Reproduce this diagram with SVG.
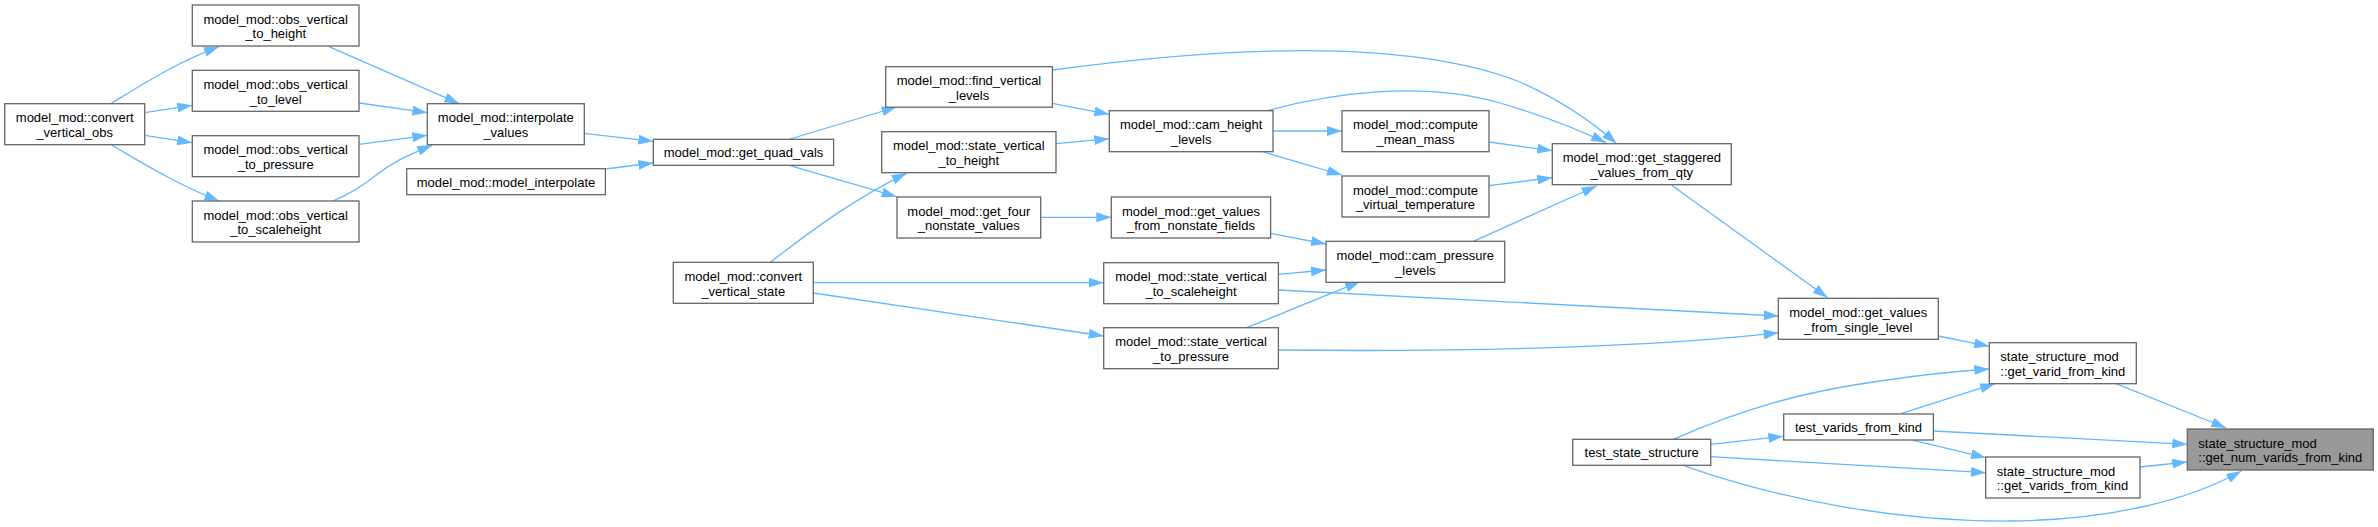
<svg xmlns="http://www.w3.org/2000/svg" width="2378" height="527" viewBox="0 0 2378 527">
<style>
.n rect{fill:#ffffff;stroke:#666666;stroke-width:1.3}
.n.f rect{fill:#999999}
.n text{font-family:"Liberation Sans",Arial,Helvetica,sans-serif;font-size:13px;fill:#000000;text-anchor:middle}
.n text.l{text-anchor:start}
#edges path{fill:none;stroke:#63b8ff;stroke-width:1.3;marker-end:url(#ah)}
</style>
<defs>
<marker id="ah" markerUnits="userSpaceOnUse" viewBox="0 0 15 10" refX="15" refY="5" markerWidth="15" markerHeight="10" orient="auto">
<path d="M0,0L15,5L0,10z" fill="#63b8ff"/>
</marker>
</defs>
<rect width="2378" height="527" fill="#ffffff"/>
<g id="edges">
<path d="M111,103.5 C140,86 175,63 219,46.7"/>
<path d="M144.7,112.7 L192.3,105.3"/>
<path d="M144.7,135.3 L192.3,142.7"/>
<path d="M112,145.3 C141,162 176,184 219.3,201"/>
<path d="M329,46.7 L459.3,103.7"/>
<path d="M359,103 L427.3,112.7"/>
<path d="M359,144.3 L427.3,135.3"/>
<path d="M332.7,201 C350,194 365,184 375,176 C390,164 405,156 432.3,145.3"/>
<path d="M584.3,133.3 L653.3,141.3"/>
<path d="M605.3,169 L653.3,163"/>
<path d="M790,139 L896.7,107"/>
<path d="M790,165.7 L896.7,196.7"/>
<path d="M770,262.3 C800,240 850,200 906.7,173.3"/>
<path d="M813.3,282.7 L1103.7,282.7"/>
<path d="M813.3,293 L1103.7,336"/>
<path d="M1052.3,103.3 L1109.3,114.3"/>
<path d="M1052.3,70 C1200,50 1400,35 1520,82 C1560,100 1590,120 1616.7,143.7"/>
<path d="M1056,143.7 L1109.3,138.7"/>
<path d="M1040.7,217.3 L1111.3,217.3"/>
<path d="M1273,131 L1342,131"/>
<path d="M1263.3,152 L1342,175"/>
<path d="M1266.7,110.7 C1330,94 1420,80 1500,103 C1545,116 1575,128 1606,142.7"/>
<path d="M1270.7,233.3 L1326,244"/>
<path d="M1278.3,274.3 L1326,270"/>
<path d="M1246.7,327.7 L1360,281.7"/>
<path d="M1489,142 L1552.3,150.7"/>
<path d="M1489,185.7 L1552.3,177.7"/>
<path d="M1473.3,241.3 L1596.7,186"/>
<path d="M1671.7,185.3 L1827.7,297.7"/>
<path d="M1278.3,290 L1778.7,316"/>
<path d="M1278.3,350 C1450,352 1650,348 1778.7,332.7"/>
<path d="M1938.3,336 L1989.3,346.3"/>
<path d="M1673.3,439.3 C1740,410 1800,392 1880,381 C1920,375 1960,371 1989.3,369"/>
<path d="M1901.7,413.3 L1995,383.7"/>
<path d="M1710.7,444.3 L1783.3,436.3"/>
<path d="M1710.7,456.7 L1986,472.7"/>
<path d="M1913.3,440.3 L1986,457.7"/>
<path d="M1933.3,431 L2187.3,444.3"/>
<path d="M2116,383.7 L2226.3,428"/>
<path d="M2140,467 L2187.3,462"/>
<path d="M1683.3,465.3 C1780,500 1900,522 2011,521 C2110,520 2190,500 2241.3,471"/>
</g>
<g id="convert_vertical_obs" class="n"><rect x="4.7" y="103.7" width="140" height="41"/><text x="74.7" y="122.2">model_mod::convert</text><text x="74.7" y="137">_vertical_obs</text></g>
<g id="obs_vertical_to_height" class="n"><rect x="192.3" y="5" width="166.7" height="41"/><text x="275.7" y="23.5">model_mod::obs_vertical</text><text x="275.7" y="38.3">_to_height</text></g>
<g id="obs_vertical_to_level" class="n"><rect x="192.3" y="70.3" width="166.7" height="41"/><text x="275.7" y="88.8">model_mod::obs_vertical</text><text x="275.7" y="103.6">_to_level</text></g>
<g id="obs_vertical_to_pressure" class="n"><rect x="192.3" y="135.7" width="166.7" height="41"/><text x="275.7" y="154.2">model_mod::obs_vertical</text><text x="275.7" y="169">_to_pressure</text></g>
<g id="obs_vertical_to_scaleheight" class="n"><rect x="192.3" y="201" width="166.7" height="41"/><text x="275.7" y="219.5">model_mod::obs_vertical</text><text x="275.7" y="234.3">_to_scaleheight</text></g>
<g id="interpolate_values" class="n"><rect x="427.3" y="103.7" width="157" height="41"/><text x="505.8" y="122.2">model_mod::interpolate</text><text x="505.8" y="137">_values</text></g>
<g id="model_interpolate" class="n"><rect x="406.7" y="168.7" width="198.7" height="26"/><text x="506" y="186.5">model_mod::model_interpolate</text></g>
<g id="get_quad_vals" class="n"><rect x="653.3" y="139.3" width="180.3" height="26"/><text x="743.5" y="157.1">model_mod::get_quad_vals</text></g>
<g id="convert_vertical_state" class="n"><rect x="673.3" y="262.3" width="140" height="41"/><text x="743.3" y="280.8">model_mod::convert</text><text x="743.3" y="295.6">_vertical_state</text></g>
<g id="find_vertical_levels" class="n"><rect x="885.7" y="66.7" width="166.7" height="40.5"/><text x="969" y="85.2">model_mod::find_vertical</text><text x="969" y="100">_levels</text></g>
<g id="state_vertical_to_height" class="n"><rect x="881.7" y="131.7" width="174.3" height="41"/><text x="968.8" y="150.2">model_mod::state_vertical</text><text x="968.8" y="165">_to_height</text></g>
<g id="get_four_nonstate_values" class="n"><rect x="897" y="197" width="143.7" height="41"/><text x="968.8" y="215.5">model_mod::get_four</text><text x="968.8" y="230.3">_nonstate_values</text></g>
<g id="cam_height_levels" class="n"><rect x="1109.3" y="110.7" width="163.7" height="41"/><text x="1191.2" y="129.2">model_mod::cam_height</text><text x="1191.2" y="144">_levels</text></g>
<g id="get_values_from_nonstate_fields" class="n"><rect x="1111.3" y="197" width="159.3" height="41"/><text x="1191" y="215.5">model_mod::get_values</text><text x="1191" y="230.3">_from_nonstate_fields</text></g>
<g id="state_vertical_to_scaleheight" class="n"><rect x="1103.7" y="262.7" width="174.7" height="41"/><text x="1191" y="281.2">model_mod::state_vertical</text><text x="1191" y="296">_to_scaleheight</text></g>
<g id="state_vertical_to_pressure" class="n"><rect x="1103.7" y="327.7" width="174.7" height="41"/><text x="1191" y="346.2">model_mod::state_vertical</text><text x="1191" y="361">_to_pressure</text></g>
<g id="compute_mean_mass" class="n"><rect x="1342" y="110.7" width="147" height="41"/><text x="1415.5" y="129.2">model_mod::compute</text><text x="1415.5" y="144">_mean_mass</text></g>
<g id="compute_virtual_temperature" class="n"><rect x="1342" y="176" width="147" height="41"/><text x="1415.5" y="194.5">model_mod::compute</text><text x="1415.5" y="209.3">_virtual_temperature</text></g>
<g id="cam_pressure_levels" class="n"><rect x="1326" y="241.3" width="178.7" height="41"/><text x="1415.3" y="259.8">model_mod::cam_pressure</text><text x="1415.3" y="274.6">_levels</text></g>
<g id="get_staggered_values_from_qty" class="n"><rect x="1552.3" y="143.7" width="179" height="41"/><text x="1641.8" y="162.2">model_mod::get_staggered</text><text x="1641.8" y="177">_values_from_qty</text></g>
<g id="get_values_from_single_level" class="n"><rect x="1778.3" y="298.3" width="160" height="41"/><text x="1858.3" y="316.8">model_mod::get_values</text><text x="1858.3" y="331.6">_from_single_level</text></g>
<g id="test_state_structure" class="n"><rect x="1572.7" y="439.3" width="138" height="26"/><text x="1641.7" y="457.1">test_state_structure</text></g>
<g id="test_varids_from_kind" class="n"><rect x="1783.7" y="414" width="149.7" height="26"/><text x="1858.5" y="431.8">test_varids_from_kind</text></g>
<g id="get_varid_from_kind" class="n"><rect x="1989.3" y="342.7" width="147" height="41"/><text class="l" x="2000.3" y="361.2">state_structure_mod</text><text class="l" x="2000.3" y="376">::get_varid_from_kind</text></g>
<g id="get_varids_from_kind" class="n"><rect x="1985.7" y="457" width="154.3" height="41"/><text class="l" x="1996.7" y="475.5">state_structure_mod</text><text class="l" x="1996.7" y="490.3">::get_varids_from_kind</text></g>
<g id="get_num_varids_from_kind" class="n f"><rect x="2187.3" y="429" width="186" height="41"/><text class="l" x="2198.3" y="447.5">state_structure_mod</text><text class="l" x="2198.3" y="462.3">::get_num_varids_from_kind</text></g>
</svg>
